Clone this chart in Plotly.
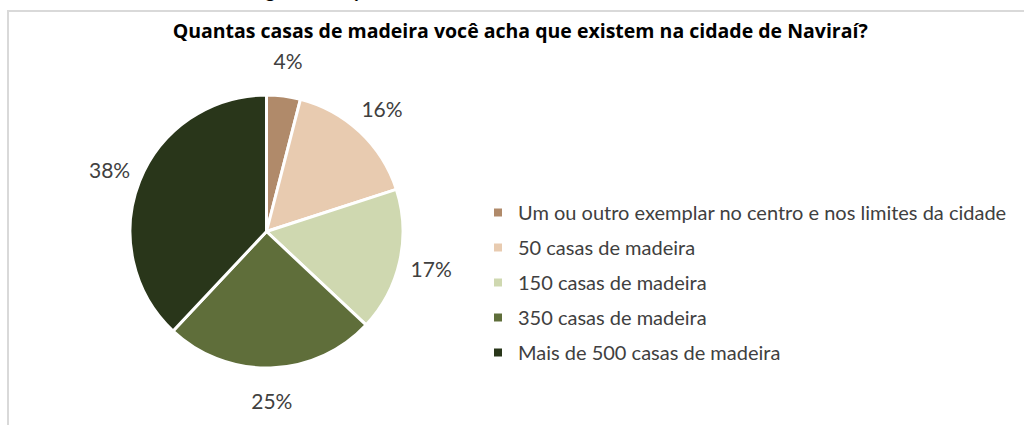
import plotly.graph_objects as go

categories = [
    "Um ou outro exemplar no centro e nos limites da cidade",
    "50 casas de madeira",
    "150 casas de madeira",
    "350 casas de madeira",
    "Mais de 500 casas de madeira",
]
values = [4, 16, 17, 25, 38]
colors = ["#B08A6A", "#E8CBB0", "#CFD8B0", "#5F6E3A", "#29361A"]

title_text = "Quantas casas de madeira você acha que existem na cidade de Naviraí?"
caption_text = "Figura 3 – Quantidade de casas de madeira na cidade de Naviraí"

W, H = 1024, 425
FONT = "Lato, Carlito, Calibri, sans-serif"
CX, CY, R = 266.5, 231.5, 136.5
R_OUT, R_IN = 193.5, 144   # transparent ring whose middle carries the percentage labels


def dom(r):
    return dict(x=[(CX - r) / W, (CX + r) / W], y=[1 - (CY + r) / H, 1 - (CY - r) / H])


fig = go.Figure()
fig.add_trace(go.Pie(
    labels=categories, values=values, sort=False,
    direction="clockwise", rotation=0,
    marker=dict(colors=colors, line=dict(color="white", width=3)),
    textinfo="none", showlegend=False, hoverinfo="label+percent",
    domain=dom(R),
))
fig.add_trace(go.Pie(
    labels=categories, values=values, sort=False,
    direction="clockwise", rotation=0, hole=R_IN / R_OUT,
    marker=dict(colors=["rgba(0,0,0,0)"] * len(values), line=dict(width=0)),
    texttemplate="%{percent:.0%}", textposition="inside",
    insidetextorientation="horizontal",
    textfont=dict(family=FONT, size=21, color="#404040"),
    showlegend=False, hoverinfo="skip",
    domain=dom(R_OUT),
))

for i, (cat, col) in enumerate(zip(categories, colors)):
    fig.add_trace(go.Scatter(
        x=[None], y=[None], mode="markers",
        marker=dict(symbol="square", size=8, color=col),
        name=cat, legendgroup=f"g{i}", showlegend=True,
    ))

fig.update_layout(
    width=W, height=H,
    margin=dict(l=0, r=0, t=0, b=0),
    paper_bgcolor="white", plot_bgcolor="white",
    xaxis=dict(visible=False), yaxis=dict(visible=False),
    font=dict(family=FONT, color="#404040"),
    title=dict(
        text=f"<b>{title_text}</b>",
        x=0.508, xanchor="center", y=1 - 31 / H, yanchor="middle",
        font=dict(family="Open Sans, sans-serif", size=19.5, color="#000000"),
    ),
    legend=dict(
        x=478 / W, xanchor="left", y=1 - 193 / H, yanchor="top",
        font=dict(family=FONT, size=20, color="#404040"),
        tracegroupgap=6, traceorder="grouped",
        bgcolor="rgba(0,0,0,0)",
    ),
    shapes=[dict(
        type="rect", xref="paper", yref="paper",
        x0=8 / W, x1=1.01, y0=-0.01, y1=1 - 11 / H,
        line=dict(color="#D9D9D9", width=2), fillcolor="rgba(0,0,0,0)",
        layer="below",
    )],
    annotations=[dict(
        text=caption_text, xref="paper", yref="paper",
        x=529 / W, y=1, xanchor="center", yanchor="bottom", yshift=-4,
        showarrow=False, font=dict(family=FONT, size=20, color="#000000"),
    )],
)

fig.write_html("out.html", config={"displayModeBar": False},
               post_script="document.body.style.margin='0';")
